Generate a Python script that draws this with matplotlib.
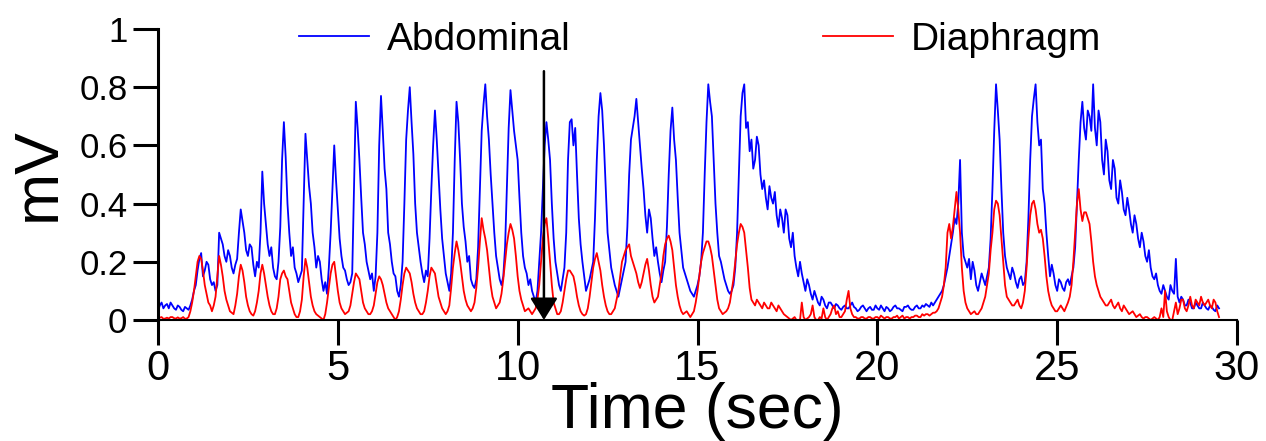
import numpy as np
import matplotlib
matplotlib.use("Agg")
import matplotlib.pyplot as plt

plt.rcParams['font.family'] = ['Liberation Sans', 'DejaVu Sans']

dt = 0.05
abdominal = [
    .03, .05, .06, .04, .05, .055, .04, .06, .05, .04, .035, .05, .045, .035, .03, .045, .04, .035, .05, .07,
    .10, .12, .17, .21, .23, .15, .17, .20, .19, .14, .12, .13, .10, .12, .30, .28, .26, .22, .20, .24,
    .22, .18, .16, .19, .21, .30, .38, .34, .30, .24, .22, .26, .25, .19, .15, .20, .18, .30, .51, .40,
    .33, .26, .22, .25, .18, .15, .14, .20, .32, .55, .68, .56, .40, .30, .22, .25, .18, .16, .13, .15,
    .17, .40, .64, .55, .46, .40, .30, .25, .18, .22, .20, .14, .10, .13, .09, .18, .30, .45, .60, .48,
    .38, .28, .22, .18, .17, .14, .12, .13, .16, .45, .75, .66, .55, .42, .30, .26, .20, .17, .14, .16,
    .10, .15, .30, .60, .77, .65, .52, .45, .30, .26, .20, .16, .15, .10, .08, .12, .20, .40, .62, .72,
    .80, .68, .57, .40, .30, .25, .20, .16, .13, .17, .15, .28, .45, .60, .72, .62, .50, .38, .28, .22,
    .16, .13, .10, .16, .30, .55, .75, .68, .55, .40, .32, .27, .20, .22, .14, .12, .11, .14, .25, .45,
    .65, .74, .81, .70, .62, .50, .40, .30, .22, .18, .14, .12, .15, .25, .45, .66, .79, .72, .65, .60,
    .55, .42, .30, .22, .18, .16, .12, .14, .10, .08, .06, .10, .20, .30, .45, .60, .68, .62, .55, .40,
    .28, .20, .16, .12, .10, .14, .18, .30, .55, .68, .69, .60, .66, .50, .35, .26, .20, .15, .10, .12,
    .14, .17, .20, .35, .55, .70, .78, .72, .60, .45, .30, .24, .18, .15, .12, .10, .08, .11, .14, .17,
    .20, .32, .50, .62, .66, .70, .76, .68, .60, .52, .45, .36, .30, .38, .35, .28, .22, .25, .20, .16,
    .13, .17, .20, .32, .50, .65, .73, .62, .55, .42, .30, .24, .18, .16, .14, .12, .10, .09, .08, .10,
    .12, .15, .20, .30, .50, .68, .81, .75, .70, .55, .40, .30, .22, .20, .17, .14, .12, .10, .09, .10,
    .12, .18, .30, .50, .70, .78, .81, .66, .68, .58, .62, .52, .55, .63, .60, .50, .45, .48, .42, .38,
    .46, .42, .40, .44, .36, .32, .38, .35, .30, .38, .36, .28, .25, .30, .22, .18, .15, .20, .16, .13,
    .10, .14, .12, .09, .07, .10, .08, .06, .05, .08, .07, .05, .04, .06, .06, .05, .04, .055, .05, .04,
    .035, .045, .05, .04, .04, .05, .06, .045, .04, .03, .035, .045, .05, .04, .03, .04, .045, .035, .035, .05,
    .04, .035, .05, .04, .03, .045, .04, .03, .035, .045, .05, .04, .04, .035, .03, .045, .045, .05, .04, .035,
    .035, .045, .05, .04, .04, .05, .045, .055, .05, .045, .06, .05, .06, .07, .08, .09, .10, .12, .15, .18,
    .22, .26, .30, .35, .33, .40, .55, .30, .22, .20, .18, .21, .14, .20, .17, .12, .10, .13, .16, .14,
    .12, .15, .18, .28, .45, .65, .81, .72, .62, .45, .30, .22, .18, .16, .14, .18, .16, .13, .11, .14,
    .15, .12, .13, .20, .35, .55, .70, .76, .81, .68, .60, .62, .45, .40, .30, .22, .15, .19, .16, .12,
    .10, .14, .13, .11, .10, .13, .14, .12, .15, .18, .25, .40, .55, .68, .75, .66, .62, .72, .70, .65,
    .81, .66, .60, .72, .68, .55, .50, .62, .58, .48, .45, .55, .52, .42, .40, .48, .44, .38, .36, .42,
    .38, .33, .30, .36, .33, .28, .25, .30, .27, .22, .20, .24, .18, .15, .14, .16, .12, .10, .09, .12,
    .10, .08, .07, .12, .10, .09, .21, .08, .06, .08, .07, .05, .05, .07, .06, .04, .04, .06, .05, .04,
    .04, .06, .05, .04, .035, .05, .045, .035, .03, .05, .04,
]
diaphragm = [
    .005, .008, .01, .004, .005, .008, .005, .01, .01, .006, .005, .009, .005, .006, .01, .004, .005, .01, .03, .06,
    .10, .15, .20, .22, .21, .17, .12, .09, .06, .05, .03, .05, .08, .15, .22, .19, .15, .10, .07, .05,
    .03, .025, .02, .05, .09, .15, .19, .17, .13, .08, .05, .03, .02, .015, .03, .06, .10, .16, .19, .16,
    .12, .08, .05, .03, .02, .02, .04, .08, .14, .16, .17, .15, .14, .10, .06, .04, .02, .01, .01, .03,
    .07, .15, .21, .18, .13, .08, .05, .03, .02, .015, .01, .005, .00, .02, .06, .11, .16, .19, .20, .15,
    .10, .06, .04, .03, .02, .025, .03, .05, .09, .13, .16, .15, .14, .10, .06, .04, .03, .02, .02, .03,
    .05, .09, .13, .15, .14, .12, .09, .06, .04, .03, .02, .01, .00, .01, .03, .07, .12, .16, .18, .17,
    .16, .13, .09, .06, .04, .03, .02, .02, .03, .06, .10, .15, .18, .17, .16, .12, .08, .06, .04, .03,
    .02, .03, .05, .11, .18, .23, .27, .24, .20, .15, .10, .07, .05, .04, .03, .04, .06, .11, .18, .27,
    .35, .31, .28, .24, .18, .12, .08, .06, .04, .05, .06, .09, .14, .20, .26, .30, .33, .31, .28, .22,
    .15, .10, .07, .05, .03, .035, .04, .03, .02, .03, .04, .07, .12, .20, .28, .33, .35, .28, .20, .12,
    .06, .04, .02, .02, .03, .06, .10, .14, .17, .17, .16, .15, .12, .08, .05, .03, .02, .015, .02, .04,
    .08, .13, .18, .21, .23, .20, .17, .12, .08, .05, .03, .02, .02, .03, .04, .07, .10, .15, .20, .22,
    .24, .25, .26, .22, .20, .18, .16, .13, .11, .13, .16, .19, .21, .17, .12, .08, .06, .07, .08, .12,
    .16, .22, .26, .28, .29, .27, .24, .18, .12, .08, .05, .03, .02, .025, .03, .02, .01, .02, .03, .06,
    .10, .15, .20, .23, .25, .27, .27, .25, .22, .17, .12, .07, .04, .03, .02, .025, .03, .04, .06, .10,
    .14, .20, .26, .30, .33, .32, .30, .24, .18, .11, .07, .06, .05, .07, .06, .05, .04, .06, .05, .04,
    .04, .06, .05, .04, .03, .05, .04, .03, .02, .015, .01, .005, .00, .005, .01, .00, .00, .00, .06, .01,
    .00, .005, .01, .02, .05, .01, .00, .00, .01, .005, .04, .01, .00, .01, .02, .04, .05, .02, .03, .01,
    .01, .02, .03, .07, .10, .04, .02, .01, .01, .005, .005, .01, .01, .005, .005, .01, .01, .005, .005, .01,
    .01, .005, .015, .01, .005, .01, .01, .005, .005, .01, .01, .015, .005, .01, .015, .005, .01, .01, .005, .01,
    .01, .015, .015, .01, .01, .02, .015, .02, .02, .015, .02, .025, .025, .03, .04, .06, .08, .12, .18, .30,
    .33, .28, .32, .38, .44, .38, .30, .18, .10, .06, .04, .03, .02, .025, .03, .02, .02, .03, .04, .06,
    .08, .12, .16, .24, .30, .38, .41, .40, .36, .28, .20, .12, .08, .07, .06, .05, .05, .06, .07, .05,
    .04, .06, .10, .18, .28, .36, .40, .41, .38, .33, .30, .31, .28, .22, .15, .10, .07, .05, .04, .03,
    .03, .04, .05, .04, .03, .045, .06, .08, .12, .20, .30, .40, .45, .38, .34, .37, .37, .35, .33, .27,
    .20, .15, .12, .10, .08, .07, .06, .05, .05, .06, .07, .05, .04, .05, .06, .04, .03, .05, .04, .03,
    .02, .025, .03, .02, .01, .015, .02, .01, .005, .01, .01, .005, .00, .005, .01, .005, .00, .01, .04, .01,
    .10, .03, .01, .00, .00, .03, .06, .02, .04, .07, .07, .04, .03, .05, .08, .05, .04, .07, .06, .05,
    .08, .06, .05, .06, .07, .05, .04, .07, .06, .03, .01,
]
arrow_time = 10.73
arrow_top = 0.855
x_ticks = [0, 5, 10, 15, 20, 25, 30]
y_ticks = [0, 0.2, 0.4, 0.6, 0.8, 1]
y_ticklabels = ['0', '0.2', '0.4', '0.6', '0.8', '1']

t_abd = np.arange(len(abdominal)) * dt
t_dia = np.arange(len(diaphragm)) * dt

fig = plt.figure(figsize=(12.66, 4.41), dpi=100)
ax = fig.add_axes([0.1248, 0.2744, 0.8523, 0.6598])

ax.plot(t_abd, abdominal, color='#0000ff', lw=1.3, label='Abdominal')
ax.plot(t_dia, diaphragm, color='#ff0000', lw=1.3, label='Diaphragm')

# stimulus marker
ax.annotate('', xy=(arrow_time, 0), xytext=(arrow_time, arrow_top),
            arrowprops=dict(arrowstyle='-|>,head_length=0.4,head_width=0.25',
                            color='black', lw=1.8, mutation_scale=34,
                            shrinkA=0, shrinkB=0),
            annotation_clip=False)

ax.set_xlim(0, 30)
ax.set_ylim(0, 1)
ax.set_xticks(x_ticks)
ax.set_yticks(y_ticks)
ax.set_yticklabels(y_ticklabels)
ax.spines['top'].set_visible(False)
ax.spines['right'].set_visible(False)
ax.spines['left'].set_linewidth(2.2)
ax.spines['bottom'].set_linewidth(1.5)
ax.tick_params(axis='x', length=18, width=2.2, labelsize=30, pad=3)
ax.tick_params(axis='y', length=18, width=2.2, labelsize=25, pad=4)
ax.set_xlabel('Time (sec)', fontsize=45, labelpad=-5)
ax.set_ylabel('mV', fontsize=45, labelpad=8)

ax.legend(loc='center', bbox_to_anchor=(15.07, 0.962),
          bbox_transform=ax.transData, ncol=2, frameon=False,
          fontsize=28, handlelength=1.8, handletextpad=0.45,
          columnspacing=6.5, borderpad=0, borderaxespad=0)

fig.savefig('out.png', dpi=100)
